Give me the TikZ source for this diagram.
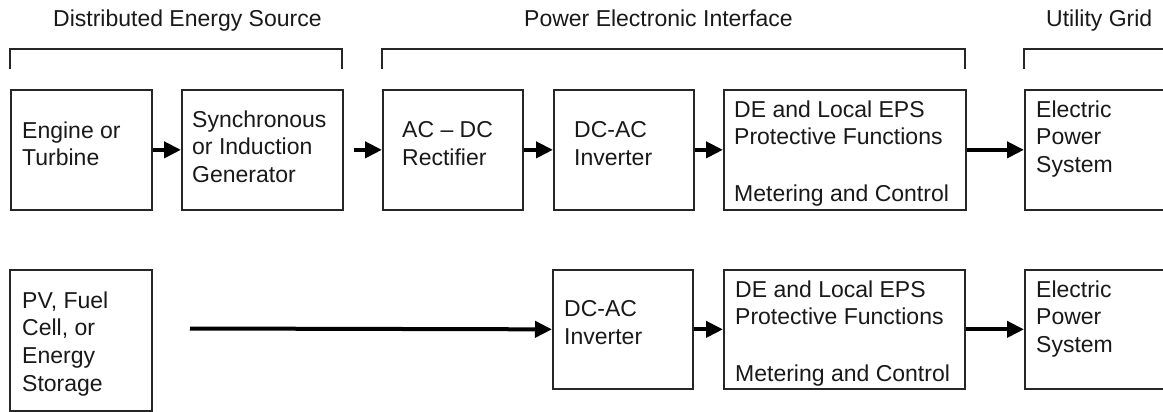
\documentclass[tikz,border=0pt]{standalone}
\usepackage{fontspec}
\setmainfont{Liberation Sans}
\usetikzlibrary{arrows.meta,calc}
\begin{document}
\begin{tikzpicture}[x=1pt,y=-1pt,
  box/.style={draw=black!85, line width=1.7pt, rectangle, inner sep=0pt, anchor=north west},
  txt/.style={inner sep=0pt, anchor=north west, align=left, text=black!90,
    font=\fontsize{23}{27.8}\selectfont},
  ttl/.style={inner sep=0pt, anchor=base west, text=black!90, font=\fontsize{23}{27.8}\selectfont},
  arr/.style={line width=4pt, -{Triangle[length=17pt,width=16pt]}, black},
  brk/.style={draw=black!85, line width=1.7pt}]
\clip (0,0) rectangle (1163,412);
\fill[white] (0,0) rectangle (1163,412);
% titles
\node[ttl] (t1) at (53,27) {Distributed Energy Source};
\node[ttl] (t2) at (524,27) {Power Electronic Interface};
\node[ttl] (t3) at (1046,27) {Utility Grid};
% brackets
\draw[brk] (10,69) -- (10,49) -- (342,49) -- (342,69);
\draw[brk] (382,69) -- (382,49) -- (965,49) -- (965,69);
\draw[brk] (1024,69) -- (1024,49) -- (1200,49);
% row 1 boxes
\node[box, minimum width=141pt, minimum height=120pt] (eng) at (10,89) {};
\node[box, minimum width=161pt, minimum height=120pt] (gen) at (181,89) {};
\node[box, minimum width=140pt, minimum height=120pt] (rec) at (382,89) {};
\node[box, minimum width=140pt, minimum height=120pt] (inv1) at (553,89) {};
\node[box, minimum width=242pt, minimum height=120pt] (pro1) at (723,89) {};
\node[box, minimum width=180pt, minimum height=120pt] (eps1) at (1024,89) {};
% row 2 boxes
\node[box, minimum width=142pt, minimum height=141pt] (pv) at (9,269) {};
\node[box, minimum width=140pt, minimum height=119pt] (inv2) at (552,269) {};
\node[box, minimum width=241pt, minimum height=119pt] (pro2) at (723,269) {};
\node[box, minimum width=180pt, minimum height=119pt] (eps2) at (1024,269) {};
% texts row 1
\node[txt] (engt) at (22,121.3) {Engine or\\Turbine};
\node[txt] (gent) at (192,110.3) {Synchronous\\or Induction\\Generator};
\node[txt] (rect) at (402,121.3) {AC – DC\\Rectifier};
\node[txt] (inv1t) at (574,121.3) {DC-AC\\Inverter};
\node[txt] (pro1t) at (734,100.3) {DE and Local EPS\\Protective Functions\\[29pt]Metering and Control};
\node[txt] (eps1t) at (1036,100.3) {Electric\\Power\\System};
% texts row 2
\node[txt] (pvt) at (22,291.3) {PV, Fuel\\Cell, or\\Energy\\Storage};
\node[txt] (inv2t) at (564,300.3) {DC-AC\\Inverter};
\node[txt] (pro2t) at (735,280.3) {DE and Local EPS\\Protective Functions\\[29pt]Metering and Control};
\node[txt] (eps2t) at (1036,280.3) {Electric\\Power\\System};
% arrows row 1
\coordinate (genout) at ($(gen.east)+(10,0)$);
\draw[arr] (eng.east) -- (gen.west);
\draw[arr] (genout) -- (rec.west);
\draw[arr] (rec.east) -- (inv1.west);
\draw[arr] (inv1.east) -- (pro1.west);
\draw[arr] (pro1.east) -- (eps1.west);
% arrows row 2
\coordinate (pvout) at (190,328.5);
\draw[arr] (pvout) -- (inv2.west);
\draw[arr] (inv2.east) -- (pro2.west);
\draw[arr] (pro2.east) -- (eps2.west);
\end{tikzpicture}
\end{document}
